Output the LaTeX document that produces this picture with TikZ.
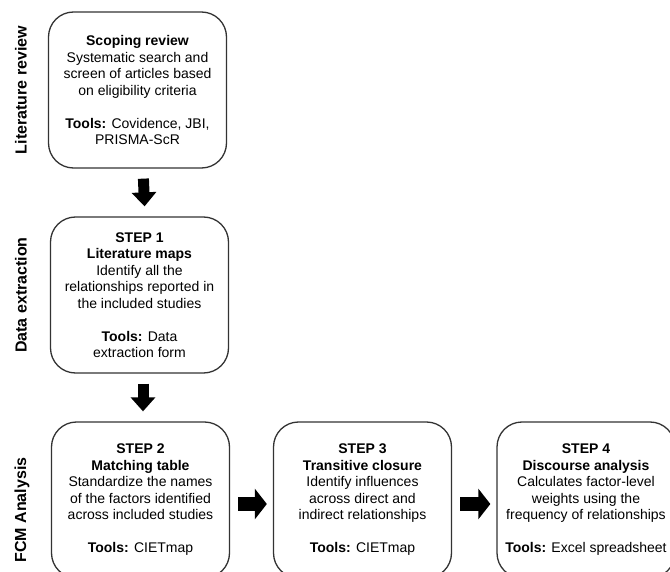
\documentclass[tikz,border=0pt]{standalone}
\usepackage{fontspec}
\setmainfont{Liberation Sans}
\usetikzlibrary{arrows.meta}
\begin{document}
\begin{tikzpicture}[x=1pt,y=-1pt,
  box/.style={draw=black!80, line width=1.3pt, rounded corners=25pt, fill=white,
    minimum width=178pt, minimum height=156pt, align=center, inner sep=0pt,
    font=\fontsize{14}{16.5}\selectfont},
  side/.style={rotate=90, font=\fontsize{16}{18}\selectfont\bfseries},
  varrow/.style={line width=11pt, -{Triangle[width=24pt,length=14pt]}, shorten <=10pt, shorten >=10pt},
  harrow/.style={line width=14pt, -{Triangle[width=30pt,length=12pt]}, shorten <=8pt, shorten >=6pt}]
\clip (0,0) rectangle (670,572);
\fill[white] (0,0) rectangle (670,572);

\node[side] (l1) at (21,90) {Literature review};
\node[side] (l2) at (21,295) {Data extraction};
\node[side] (l3) at (22,510) {FCM Analysis};

\node[box] (b1) at (137.5,90) {\textbf{Scoping review}\\Systematic search and\\screen of articles based\\on eligibility criteria\\[16.5pt]\textbf{Tools:} Covidence, JBI,\\PRISMA-ScR};
\node[box] (b2) at (139.5,295) {\textbf{STEP 1}\\\textbf{Literature maps}\\Identify all the\\relationships reported in\\the included studies\\[16.5pt]\textbf{Tools:} Data\\extraction form};
\node[box] (b3) at (140.5,500) {\textbf{STEP 2}\\\textbf{Matching table}\\Standardize the names\\of the factors identified\\across included studies\\[16.5pt]\textbf{Tools:} CIETmap};
\node[box] (b4) at (362.5,500) {\textbf{STEP 3}\\\textbf{Transitive closure}\\Identify influences\\across direct and\\indirect relationships\\[16.5pt]\textbf{Tools:} CIETmap};
\node[box] (b5) at (586,500) {\textbf{STEP 4}\\\textbf{Discourse analysis}\\Calculates factor-level\\weights using the\\frequency of relationships\\[16.5pt]\textbf{Tools:} Excel spreadsheet};

\draw[varrow] ([xshift=5.5pt]b1.south) -- ([xshift=5.5pt]b2.north);
\draw[varrow] ([xshift=3.5pt]b2.south) -- ([xshift=2.5pt]b3.north);
\draw[harrow] ([yshift=-4pt]b3.east) -- ([yshift=-4pt]b4.west);
\draw[harrow] ([yshift=-4pt]b4.east) -- ([yshift=-4pt]b5.west);
\end{tikzpicture}
\end{document}
